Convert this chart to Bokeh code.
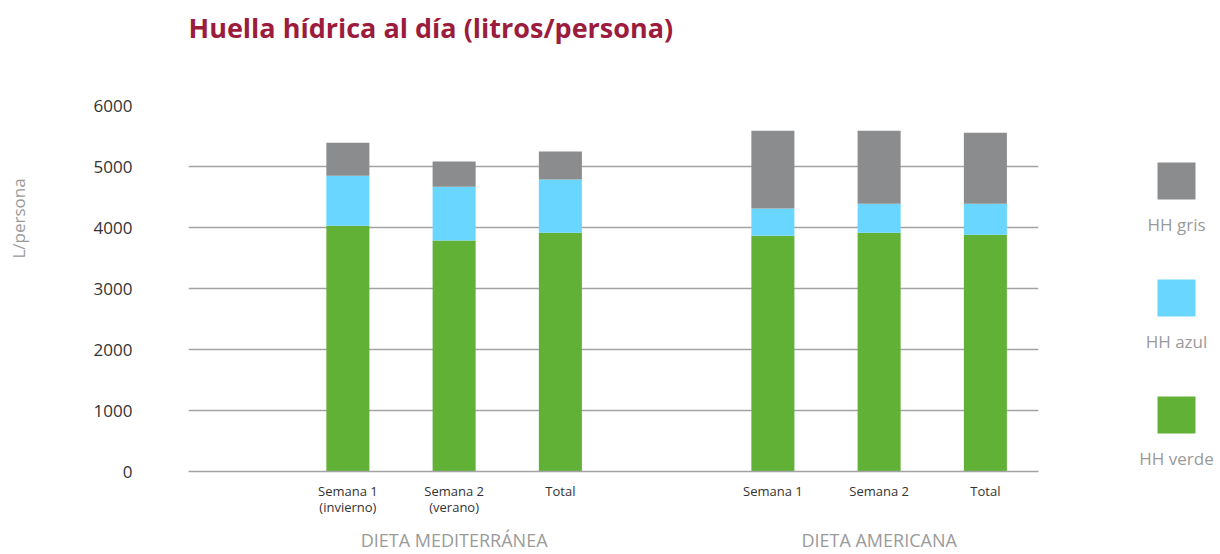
import math
from bokeh.plotting import figure
from bokeh.models import Range1d, FixedTicker, LinearAxis, Title, ColumnDataSource
from bokeh.layouts import row
from bokeh.core.properties import value
from bokeh.embed import file_html
from bokeh.resources import INLINE

# ---------------- data ----------------
groups = ["DIETA MEDITERRÁNEA", "DIETA AMERICANA"]
categories = [
    ["Semana 1\n(invierno)", "Semana 2\n(verano)", "Total"],
    ["Semana 1", "Semana 2", "Total"],
]
hh_verde = [4030, 3785, 3915, 3865, 3915, 3880]
hh_azul = [820, 885, 870, 445, 475, 510]
hh_gris = [540, 410, 460, 1275, 1195, 1165]
series = ["hh_verde", "hh_azul", "hh_gris"]
series_labels = ["HH verde", "HH azul", "HH gris"]
y_ticks = [0, 1000, 2000, 3000, 4000, 5000, 6000]
title_text = "Huella hídrica al día (litros/persona)"
y_label = "L/persona"

# ---------------- styles ----------------
colors = ["#61b136", "#69d6ff", "#8b8c8e"]
FONT = "Open Sans"
TITLE_COLOR = "#9b1c3c"
GRID = "#a3a3a3"
LIGHT_TEXT = "#9a9a9a"
DARK_TEXT = "#333333"

# page geometry (pixels)
PAGE_W, H = 1220, 554
FRAME_TOP, FRAME_BOTTOM = 105, 471
W_YLAB, W_LEG = 30, 120
W_MAIN = PAGE_W - W_YLAB - W_LEG

# layout: slots of width 1; one empty slot before first group, one between groups
x_pos, x_labels, group_centers = [], [], []
slot = 1.0
for g, cats in enumerate(categories):
    start = slot
    for c in cats:
        x_pos.append(slot + 0.5)
        x_labels.append(c)
        slot += 1
    group_centers.append((start + slot) / 2)
    slot += 1
x_end = x_pos[-1] + 0.5

source = ColumnDataSource(dict(x=x_pos, hh_verde=hh_verde, hh_azul=hh_azul, hh_gris=hh_gris))

p = figure(width=W_MAIN, height=H, x_range=Range1d(0, x_end), y_range=Range1d(0, 6000),
           output_backend="svg", toolbar_location=None,
           min_border_left=188 - W_YLAB, min_border_right=W_YLAB + W_MAIN - 1038,
           min_border_top=FRAME_TOP, min_border_bottom=H - FRAME_BOTTOM)
p.outline_line_color = None
p.background_fill_color = "white"
p.border_fill_color = "white"

p.vbar_stack(series, x="x", width=0.405, color=colors, line_color=None, source=source)

# title: a trailing empty line lifts the text well above the frame
p.add_layout(Title(text=title_text + "\n", align="left", text_font=FONT, text_font_size="27px",
                   text_font_style="bold", text_color=TITLE_COLOR, standoff=2,
                   text_line_height=1.59), "above")

# y axis
p.yaxis.ticker = FixedTicker(ticks=y_ticks)
p.yaxis.axis_line_color = None
p.yaxis.major_tick_line_color = None
p.yaxis.minor_tick_line_color = None
p.yaxis.major_tick_out = 0
p.yaxis.major_label_standoff = 56
p.yaxis.major_label_text_font = FONT
p.yaxis.major_label_text_font_size = "17px"
p.yaxis.major_label_text_color = DARK_TEXT

p.ygrid.ticker = FixedTicker(ticks=y_ticks)
p.ygrid.grid_line_color = GRID
p.ygrid.grid_line_width = 1.5
p.xgrid.grid_line_color = None

# category x axis
p.xaxis.ticker = FixedTicker(ticks=x_pos)
p.xaxis.major_label_overrides = {x: l for x, l in zip(x_pos, x_labels)}
p.xaxis.axis_line_color = GRID
p.xaxis.axis_line_width = 1.5
p.xaxis.major_tick_line_color = None
p.xaxis.minor_tick_line_color = None
p.xaxis.major_tick_out = 0
p.xaxis.major_label_standoff = 10
p.xaxis.major_label_text_font = FONT
p.xaxis.major_label_text_font_size = "13px"
p.xaxis.major_label_text_line_height = 0.9
p.xaxis.major_label_text_color = DARK_TEXT

# group axis
gax = LinearAxis(ticker=FixedTicker(ticks=group_centers),
                 major_label_overrides={c: g for c, g in zip(group_centers, groups)})
gax.axis_line_color = None
gax.major_tick_line_color = None
gax.minor_tick_line_color = None
gax.major_tick_out = 0
gax.major_label_standoff = 9
gax.major_label_text_font = FONT
gax.major_label_text_font_size = "18px"
gax.major_label_text_color = LIGHT_TEXT
p.add_layout(gax, "below")


def side_panel(width):
    f = figure(width=width, height=H, x_range=Range1d(0, width),
               y_range=Range1d(FRAME_BOTTOM, FRAME_TOP),
               output_backend="svg", toolbar_location=None,
               x_axis_type=None, y_axis_type=None, min_border=0)
    f.outline_line_color = None
    f.xgrid.visible = False
    f.ygrid.visible = False
    f.background_fill_color = "white"
    f.border_fill_color = "white"
    return f


# y label panel (y coordinates in page pixels)
yl = side_panel(W_YLAB)
yl.text(x=[17.5], y=[218], text=[y_label], angle=math.pi / 2, text_align="center",
        text_baseline="middle", text_font=value(FONT), text_font_size="17px",
        text_color=LIGHT_TEXT)

# legend panel
lf = side_panel(W_LEG)
leg_cx = 1176 - (W_YLAB + W_MAIN)
leg_y0, leg_step = 180.5, 117
order = list(reversed(range(len(series))))
for i, k in enumerate(order):
    cy = leg_y0 + i * leg_step
    lf.rect(x=[leg_cx], y=[cy], width=38, height=37, color=colors[k], line_color=None)
    lf.text(x=[leg_cx], y=[cy + 43], text=[series_labels[k]], text_align="center",
            text_baseline="middle", text_font=value(FONT), text_font_size="17px",
            text_color=LIGHT_TEXT)

layout = row(yl, p, lf)
open("out.html", "w").write(file_html(layout, INLINE))
